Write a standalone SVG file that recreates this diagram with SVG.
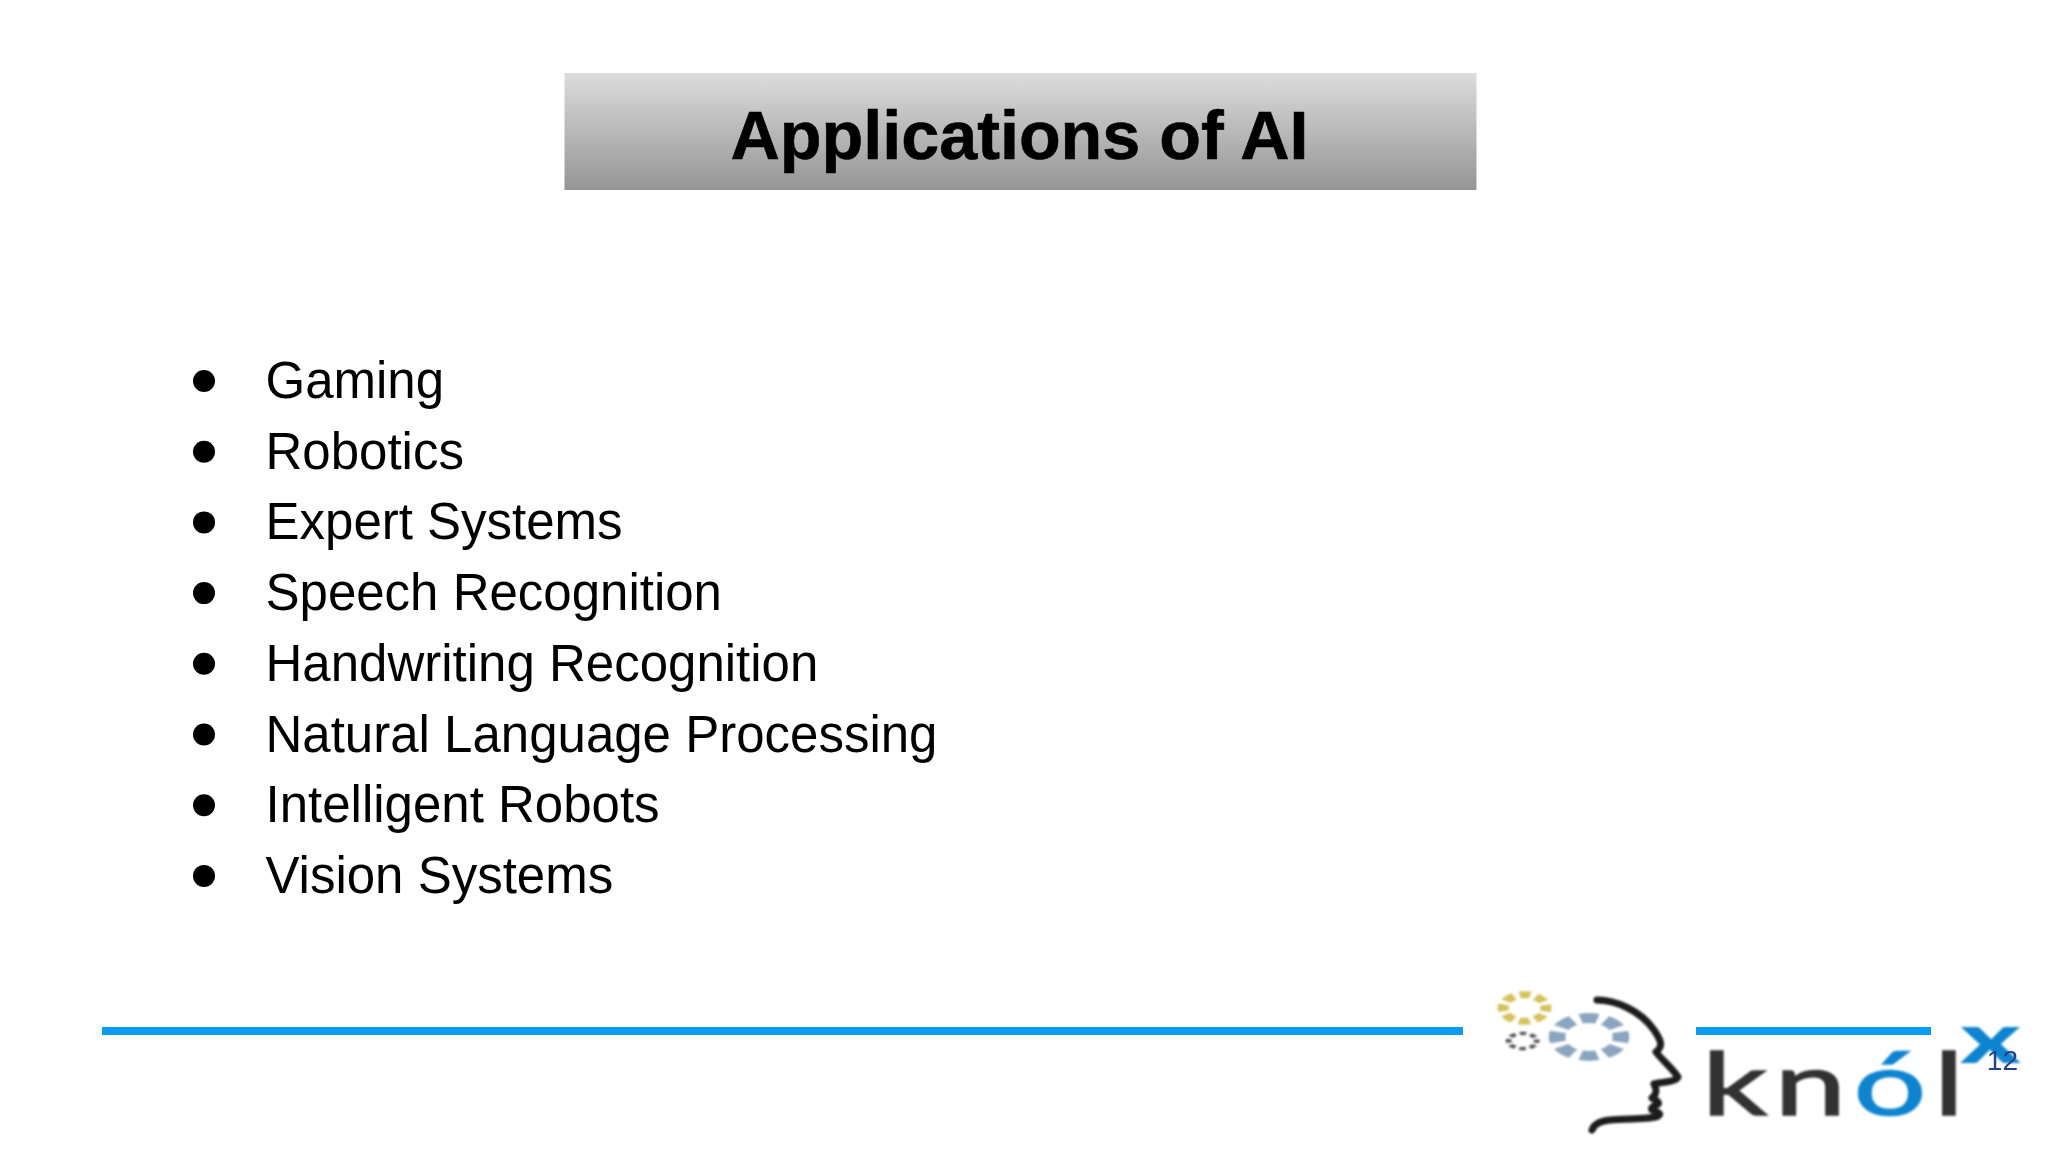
<svg xmlns="http://www.w3.org/2000/svg" width="2048" height="1152" viewBox="0 0 2048 1152">
<style>
.t{font-family:"Liberation Sans",Arial,sans-serif;fill:#000}
.li{font-size:51px}
.rule{fill:#0a9bf5}
.logo{font-family:"Lato","Open Sans",sans-serif}
</style>
<defs>
<linearGradient id="g" x1="0" y1="0" x2="0" y2="1"><stop offset="0" stop-color="#dcdcdc"/><stop offset="1" stop-color="#959595"/></linearGradient>
<filter id="soft" x="-5%" y="-5%" width="110%" height="110%"><feGaussianBlur stdDeviation="0.8"/></filter>
</defs>
<rect width="2048" height="1152" fill="#fff"/>
<g id="title">
<rect x="564.500" y="73" width="912" height="117" fill="url(#g)"/>
<text class="t" x="1019.500" y="159" font-size="68.300" font-weight="700" text-anchor="middle" stroke="#000" stroke-width="0.6">Applications of AI</text>
</g>
<g id="bullets">
<circle cx="204" cy="381" r="11"/><text class="t li" x="265.500" y="398">Gaming</text>
<circle cx="204" cy="451.700" r="11"/><text class="t li" x="265.500" y="468.700">Robotics</text>
<circle cx="204" cy="522.400" r="11"/><text class="t li" x="265.500" y="539.400">Expert Systems</text>
<circle cx="204" cy="593.100" r="11"/><text class="t li" x="265.500" y="610">Speech Recognition</text>
<circle cx="204" cy="663.800" r="11"/><text class="t li" x="265.500" y="680.800">Handwriting Recognition</text>
<circle cx="204" cy="734.500" r="11"/><text class="t li" x="265.500" y="751.500">Natural Language Processing</text>
<circle cx="204" cy="805.200" r="11"/><text class="t li" x="265.500" y="822.200">Intelligent Robots</text>
<circle cx="204" cy="875.900" r="11"/><text class="t li" x="265.500" y="892.900">Vision Systems</text>
</g>
<g id="logo" filter="url(#soft)">
<circle transform="translate(1524.500 1008) scale(.214 .133)" r="100" fill="none" stroke="#d6c35c" stroke-width="52" pathLength="80" stroke-dasharray="6.500 3.500" stroke-dashoffset="3.250"/>
<circle transform="translate(1522.700 1041) scale(.14 .076)" r="100" fill="none" stroke="#555" stroke-width="42" pathLength="80" stroke-dasharray="6 4" stroke-dashoffset="3"/>
<circle transform="translate(1589 1037) scale(.32 .19)" r="100" fill="none" stroke="#8aa5bf" stroke-width="52" pathLength="80" stroke-dasharray="6.750 3.250" stroke-dashoffset="3.375"/>
<path d="M1597 1000C1615 1000 1640 1010 1654 1030C1662 1042 1663 1046 1656 1052C1662 1060 1672 1068 1678 1077C1676 1082 1662 1082 1654 1084C1657 1090 1657 1094 1652 1098C1655 1100 1660 1102 1658 1104C1654 1106 1650 1108 1652 1110C1658 1112 1662 1114 1658 1116C1650 1120 1625 1118 1610 1120C1600 1121 1594 1124 1592 1130" fill="none" stroke="#1c1c1c" stroke-width="7" stroke-linecap="round" stroke-linejoin="round"/>
<text class="logo" transform="translate(1702 1115) scale(1.46 1)" font-size="88" letter-spacing="5" fill="#333" stroke="#333" stroke-width="1.500"><tspan>kn</tspan><tspan fill="#0a84d0" stroke="#0a84d0">ó</tspan><tspan>l</tspan></text>
<text class="logo" transform="translate(1990.500 1063) scale(1.62 1)" font-size="70" font-weight="900" text-anchor="middle" fill="#0a84d0">x</text>
</g>
<g id="rules">
<rect class="rule" x="102" y="1027" width="1361" height="8"/>
<rect class="rule" x="1696" y="1027" width="235" height="8"/>
</g>
<text id="page" x="2018" y="1070" font-family="Liberation Sans,Arial,sans-serif" font-size="28" text-anchor="end" fill="#24408a">12</text>
</svg>
